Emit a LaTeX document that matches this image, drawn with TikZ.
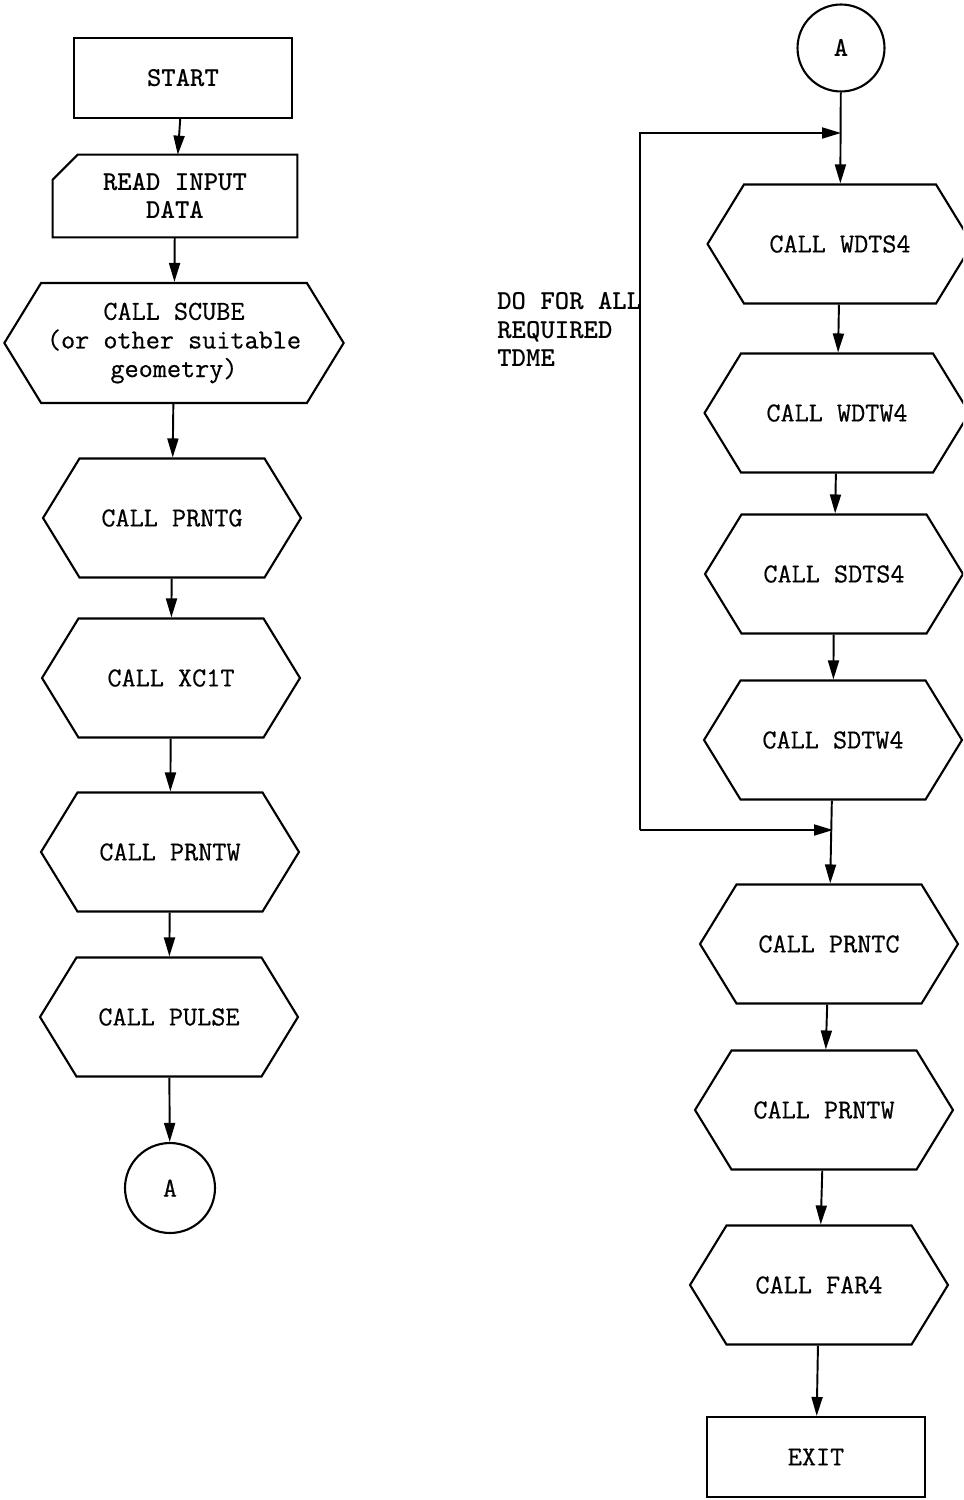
\documentclass[tikz,border=0pt]{standalone}
\usepackage{fontspec}
\newfontfamily\typewr[FakeBold=0.6]{Latin Modern Mono}
\usetikzlibrary{shapes.symbols}
\usetikzlibrary{arrows.meta}

\begin{document}
\begin{tikzpicture}[x=0.02cm,y=-0.02cm,
        every node/.style={font=\typewr\fontsize{15.6}{16.3}\selectfont},
        bold/.style={font=\ttfamily\bfseries\fontsize{15.6}{16.3}\selectfont},
        box/.style={draw,line width=1.2pt,minimum width=4.35cm,minimum height=1.6cm},
        card/.style={minimum width=4.88cm,minimum height=1.64cm,align=center},
        call/.style={draw,line width=1.2pt,signal,signal to=west and east,
            signal pointer angle=117,minimum width=5.16cm,minimum height=2.38cm,align=center},
        conn/.style={draw,circle,line width=1.2pt,minimum size=1.8cm},
        arr/.style={line width=1.1pt,-{Triangle[length=3.8mm,width=2.2mm]}}]
        \useasboundingbox (0,0) rectangle (963,1500);
        \clip (0,0) rectangle (963,1500);
        % Left column
        \node (start) [box,bold] at (183,78) {START};
        \node (read) [card,bold] at (175,196) {READ INPUT\\DATA};
        \draw[line width=1.2pt] ([yshift=-0.5cm]read.north west) -- ([xshift=0.5cm]read.north west)
            -- (read.north east) -- (read.south east) -- (read.south west) -- cycle;
        \node (scube) [call,minimum width=6.6cm,minimum height=2.4cm] at (174,343)
            {CALL SCUBE\\(or other suitable\\geometry)};
        \node (prntg) [call] at (172,518) {CALL PRNTG};
        \node (xcit) [call] at (171,678) {CALL XC1T};
        \node (prntw) [call] at (170,852) {CALL PRNTW};
        \node (pulse) [call] at (169,1017) {CALL PULSE};
        \node (conA) [conn] at (170,1188) {A};
        % Right column
        \node (conB) [conn,bold,minimum size=1.74cm] at (841,48) {A};
        \node (wdts) [call,minimum width=5.3cm] at (840,244) {CALL WDTS4};
        \node (wdtw) [call,minimum width=5.3cm] at (837,413) {CALL WDTW4};
        \node (sdts) [call] at (834,574) {CALL SDTS4};
        \node (sdtw) [call] at (833,740) {CALL SDTW4};
        \node (prntc) [call] at (829,944) {CALL PRNTC};
        \node (prntw2) [call] at (824,1110) {CALL PRNTW};
        \node (far) [call] at (819,1285) {CALL FAR4};
        \node (exit) [box] at (816,1457) {EXIT};
        \node (dofor) [bold,align=left,anchor=north west,inner sep=0pt] at (497,292)
            {DO FOR ALL\\REQUIRED\\TDME};
        % Draw connectors
        \foreach \a/\b in {start/read,read/scube,scube/prntg,prntg/xcit,xcit/prntw,
                prntw/pulse,pulse/conA,wdts/wdtw,wdtw/sdts,sdts/sdtw,sdtw/prntc,
                prntc/prntw2,prntw2/far,far/exit}
            \draw[arr] (\a) -- (\b);
        \draw[arr] (conB) -- (wdts);
        % Loop for all TDME
        \coordinate (looptl) at (640,133);
        \coordinate (loopbl) at (640,830);
        \draw[arr] (loopbl) -- (looptl) -- (looptl -| conB);
        \draw[arr] (loopbl) -- (loopbl -| sdtw.south);
    \end{tikzpicture}
\end{document}
